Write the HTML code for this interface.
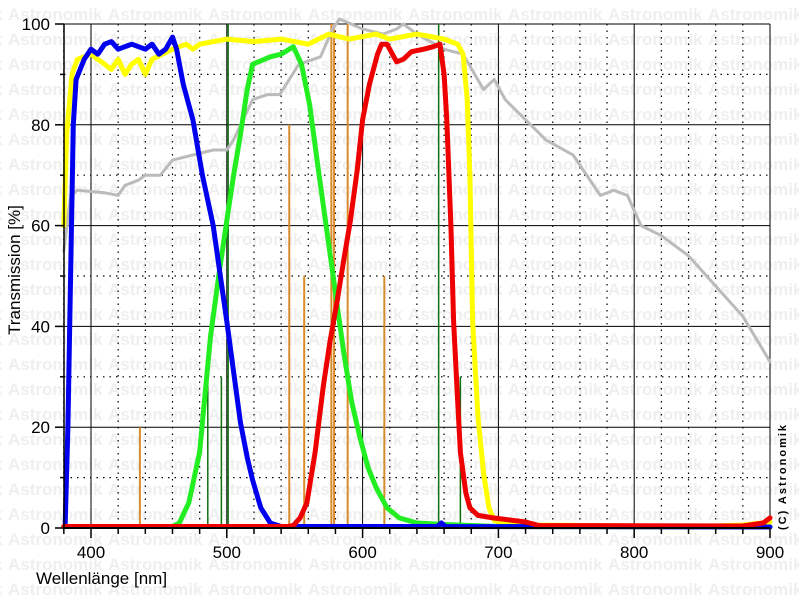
<!DOCTYPE html>
<html><head><meta charset="utf-8"><style>
html,body{margin:0;padding:0;background:#fff;}
svg{display:block;font-family:"Liberation Sans",Arial,sans-serif;}
</style></head><body>
<svg id="s" width="799" height="600" xmlns="http://www.w3.org/2000/svg">
<g id="wm" fill="#efefef" font-weight="bold" font-size="17"></g>
<g id="grid"></g>
<g id="lines"></g>
<g id="curves" fill="none" stroke-linejoin="round" stroke-linecap="round"></g>
<g id="axes"></g>
<text x="26" y="276" font-size="17" text-anchor="middle" transform="rotate(-90 20 276)">Transmission [%]</text>
<text x="36" y="584" font-size="17">Wellenlänge [nm]</text>
<text x="786" y="530" font-size="11" font-weight="bold" letter-spacing="2" transform="rotate(-90 786 530)">(C) Astronomik</text>
</svg>
<script>
var NS="http://www.w3.org/2000/svg";
function X(n){return 91+(n-400)*1.358;}
function Y(p){return 528-p*5.04;}
function el(p,t,a,txt){var e=document.createElementNS(NS,t);for(var k in a)e.setAttribute(k,a[k]);if(txt!=null)e.textContent=txt;document.getElementById(p).appendChild(e);return e;}
for(var r=0;r<24;r++){for(var c=-1;c<9;c++){el("wm","text",{x:c*100+8,y:r*25+20},"Astronomik");}}
for(var n=380;n<=900;n+=20){if(n%100==0)el("grid","line",{x1:X(n),x2:X(n),y1:24,y2:528,stroke:"#000","stroke-width":1});else el("grid","line",{x1:X(n),x2:X(n),y1:24,y2:528,stroke:"#000","stroke-width":1.2,"stroke-dasharray":"1.5,5"});}
for(var p=0;p<=100;p+=10){if(p%20==0)el("grid","line",{x1:64,x2:770,y1:Y(p),y2:Y(p),stroke:"#000","stroke-width":1});else el("grid","line",{x1:64,x2:770,y1:Y(p),y2:Y(p),stroke:"#000","stroke-width":1.2,"stroke-dasharray":"1.5,5"});}
el("grid","line",{x1:770,x2:770,y1:24,y2:528,stroke:"#000","stroke-width":1});
[[436,20],[546,80],[557,50],[577,100],[579,100],[589,100],[616,50]].forEach(function(v){el("lines","line",{x1:X(v[0]),x2:X(v[0]),y1:Y(v[1]),y2:528,stroke:"#d98a2a","stroke-width":2});});
[[486,30],[496,30],[501,100],[656,100],[672,30]].forEach(function(v){el("lines","line",{x1:X(v[0]),x2:X(v[0]),y1:Y(v[1]),y2:528,stroke:"#107010","stroke-width":1.5});});
function curve(pts,col,w){var d=pts.map(function(q,i){return(i?"L":"M")+X(q[0]).toFixed(1)+","+Y(q[1]).toFixed(1);}).join("");el("curves","path",{d:d,stroke:col,"stroke-width":w});}
curve([[380,55],[385,66],[390,67],[410,66.5],[420,66],[425,68],[435,69],[440,70],[451,70],[460,73],[475,74],[490,75],[500,75],[505,77],[519,85],[530,86],[539,86],[553,92],[569,93.5],[578,99],[583,101],[600,99],[615,98],[625,99],[630,100],[640,98],[660,95],[674,94],[689,87],[697,89],[705,85],[720,81],[735,77],[755,74],[765,70],[775,66],[785,67],[795,66],[805,60],[820,58],[840,54],[860,48],[880,42],[900,33]],"#bbbbbb",3);
curve([[380,60],[382,78],[386,90],[390,93],[400,94],[410,92],[415,91],[420,93],[425,90],[430,92],[435,93],[440,90],[445,93],[460,95],[470,96],[475,95],[480,96],[500,97],[520,96.5],[540,97],[560,96],[575,98],[590,97],[610,98],[620,97],[640,98],[660,97],[670,96],[674,94],[677,85],[679,70],[681,41],[685,22],[689,11],[693,4],[697,1.5],[705,0.8],[720,0.6],[850,0.3],[880,0.6],[900,1.2]],"#ffff00",5);
curve([[380,0.3],[460,0.3],[465,1],[472,5],[480,15],[488,38],[494,50],[500,61],[505,70],[510,78],[515,87],[519,92],[532,93.5],[540,94],[549,95.5],[555,92],[561,84],[568,70],[576,54.5],[586,35],[592,25],[598,18],[604,12],[610,8],[618,4],[627,2],[640,1],[660,0.7],[700,0.3],[900,0.2]],"#22ee22",5);
curve([[381,1],[383,20],[385,50],[387,80],[389,89],[392,91],[395,93],[400,95],[405,94],[410,96],[415,96.5],[420,95],[430,96],[440,95],[445,96],[450,94],[455,95],[460,97.4],[463,95],[468,88],[475,81],[482,70],[490,60],[500,41],[505,31],[510,21],[515,14],[519,9.5],[525,4],[532,1],[540,0.3],[655,0.3],[658,1],[661,0.3],[900,0.2]],"#0000ee",5);
curve([[380,0.3],[545,0.3],[549,0.5],[554,2],[559,5],[565,15],[571,28],[576,37],[581,44.6],[586,53],[591,61],[596,71],[600,81],[605,88],[611,94],[614,96],[618,96],[625,92.5],[630,93],[636,94.5],[645,95],[652,95.5],[657,96],[660,90],[662,81],[665,60],[667,41],[670,25],[672,15],[676,7],[679,4],[685,2.5],[696,2],[720,1.2],[730,0.5],[880,0.4],[895,1],[900,2]],"#ee0000",5);
el("axes","line",{x1:64,x2:64,y1:24,y2:528,stroke:"#000","stroke-width":1.5});
el("axes","line",{x1:64,x2:770,y1:528,y2:528,stroke:"#000","stroke-width":2});
for(var p=0;p<=100;p+=10){el("axes","line",{x1:p%20?60:55,x2:64,y1:Y(p),y2:Y(p),stroke:"#000","stroke-width":1.5});if(p%20==0)el("axes","text",{x:50,y:Y(p)+6,"font-size":17,"text-anchor":"end"},p);}
for(var n=380;n<=900;n+=20){el("axes","line",{x1:X(n),x2:X(n),y1:528,y2:n%100?534:538,stroke:"#000","stroke-width":1.5});if(n%100==0)el("axes","text",{x:X(n),y:558,"font-size":17,"text-anchor":"middle"},n);}
</script>
</body></html>
